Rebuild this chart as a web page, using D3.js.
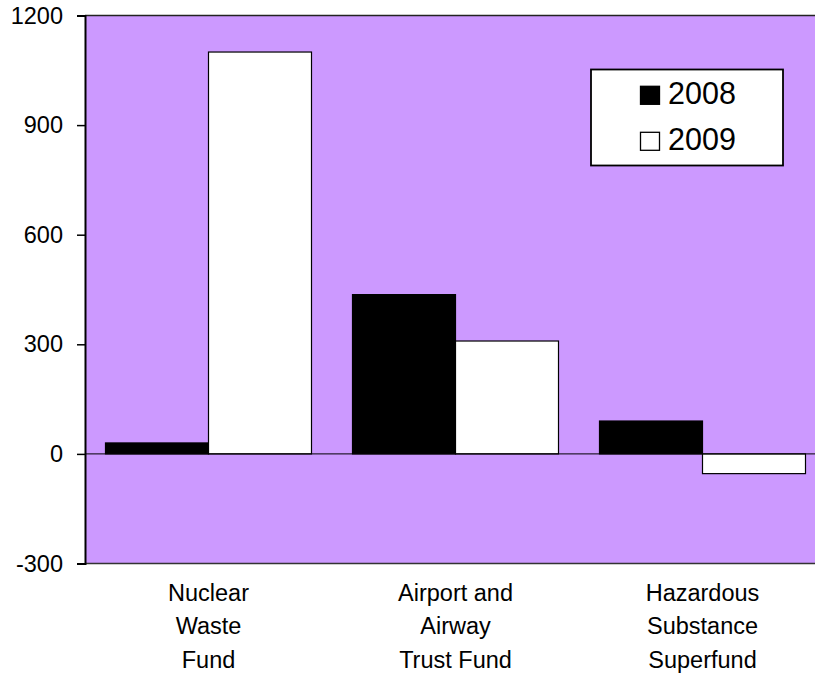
<!DOCTYPE html>
<html>
<head>
<meta charset="utf-8">
<script src="https://cdn.jsdelivr.net/npm/d3@7/dist/d3.min.js"></script>
<style>
  html, body { margin: 0; padding: 0; background: #fff; }
  svg { display: block; font-family: "Liberation Sans", Arial, sans-serif; }
</style>
</head>
<body>
<svg id="chart" width="815" height="676"></svg>
<script>
// Trust fund balances by year
const categories = [
  ["Nuclear", "Waste", "Fund"],
  ["Airport and", "Airway", "Trust Fund"],
  ["Hazardous", "Substance", "Superfund"]
];
const years = ["2008", "2009"];
const values2008 = [30, 436, 90];
const values2009 = [1100, 309, -54];
const yTicks = [-300, 0, 300, 600, 900, 1200];

const seriesValues = { "2008": values2008, "2009": values2009 };
const fills = { "2008": "#000000", "2009": "#ffffff" };

const svg = d3.select("#chart");
const plot = { left: 85, right: 826, top: 15.5, bottom: 563.5 };

const catKeys = categories.map((c, i) => i);
const x0 = d3.scaleBand().domain(catKeys).range([plot.left, plot.right]).padding(0);
const bw = x0.bandwidth();
const gap = bw * 41 / 247;
const x1 = d3.scaleBand().domain(years).range([gap / 2, bw - gap / 2]).padding(0);
const y = d3.scaleLinear().domain([-300, 1200]).range([plot.bottom, plot.top]);

// plot background
svg.append("rect")
  .attr("x", plot.left).attr("y", plot.top)
  .attr("width", plot.right - plot.left).attr("height", plot.bottom - plot.top)
  .attr("fill", "#cc99ff");

// top and bottom frame lines
svg.append("line")
  .attr("x1", plot.left).attr("x2", plot.right)
  .attr("y1", plot.top).attr("y2", plot.top)
  .attr("stroke", "#222").attr("stroke-width", 1.5);
svg.append("line")
  .attr("x1", plot.left).attr("x2", plot.right)
  .attr("y1", plot.bottom).attr("y2", plot.bottom)
  .attr("stroke", "#333").attr("stroke-width", 1.5);

// bars
const data = [];
catKeys.forEach(ci => years.forEach(yr => data.push({ ci, yr, v: seriesValues[yr][ci] })));
svg.append("g").selectAll("rect").data(data).join("rect")
  .attr("x", d => x0(d.ci) + x1(d.yr))
  .attr("width", x1.bandwidth())
  .attr("y", d => y(Math.max(0, d.v)))
  .attr("height", d => Math.abs(y(d.v) - y(0)))
  .attr("fill", d => fills[d.yr])
  .attr("stroke", "#000").attr("stroke-width", 1.2);

// zero line
svg.append("line")
  .attr("x1", plot.left).attr("x2", plot.right)
  .attr("y1", y(0)).attr("y2", y(0))
  .attr("stroke", "#000").attr("stroke-width", 1);

// y axis (plain hyphen for negatives)
const yAxis = d3.axisLeft(y).tickValues(yTicks).tickSize(8).tickPadding(14).tickFormat(d => String(d));
const ya = svg.append("g").attr("transform", `translate(${plot.left},0)`).call(yAxis);
ya.select(".domain").attr("stroke", "#000").attr("stroke-width", 2);
ya.selectAll(".tick line").attr("stroke", "#000").attr("stroke-width", 1.5);
ya.selectAll(".tick text")
  .attr("font-size", 23.5).attr("fill", "#000")
  .attr("font-family", "Liberation Sans, Arial, sans-serif");

// category labels
const xl = svg.append("g");
categories.forEach((lines, ci) => {
  const t = xl.append("text")
    .attr("x", x0(ci) + bw / 2)
    .attr("text-anchor", "middle")
    .attr("font-size", 23.5)
    .attr("fill", "#000");
  lines.forEach((ln, li) => {
    t.append("tspan").attr("x", x0(ci) + bw / 2).attr("y", 600.5 + li * 33.8).text(ln);
  });
});

// legend
const lg = svg.append("g");
lg.append("rect")
  .attr("x", 591).attr("y", 69.5).attr("width", 192).attr("height", 96)
  .attr("fill", "#fff").attr("stroke", "#000").attr("stroke-width", 1.8);
years.forEach((yr, i) => {
  const by = 104.3 + i * 46;
  lg.append("rect")
    .attr("x", 640.5).attr("y", by - 18).attr("width", 19).attr("height", 18)
    .attr("fill", fills[yr]).attr("stroke", "#000").attr("stroke-width", 1.3);
  lg.append("text")
    .attr("x", 668).attr("y", by)
    .attr("font-size", 30.5).attr("fill", "#000")
    .text(yr);
});
</script>
</body>
</html>
